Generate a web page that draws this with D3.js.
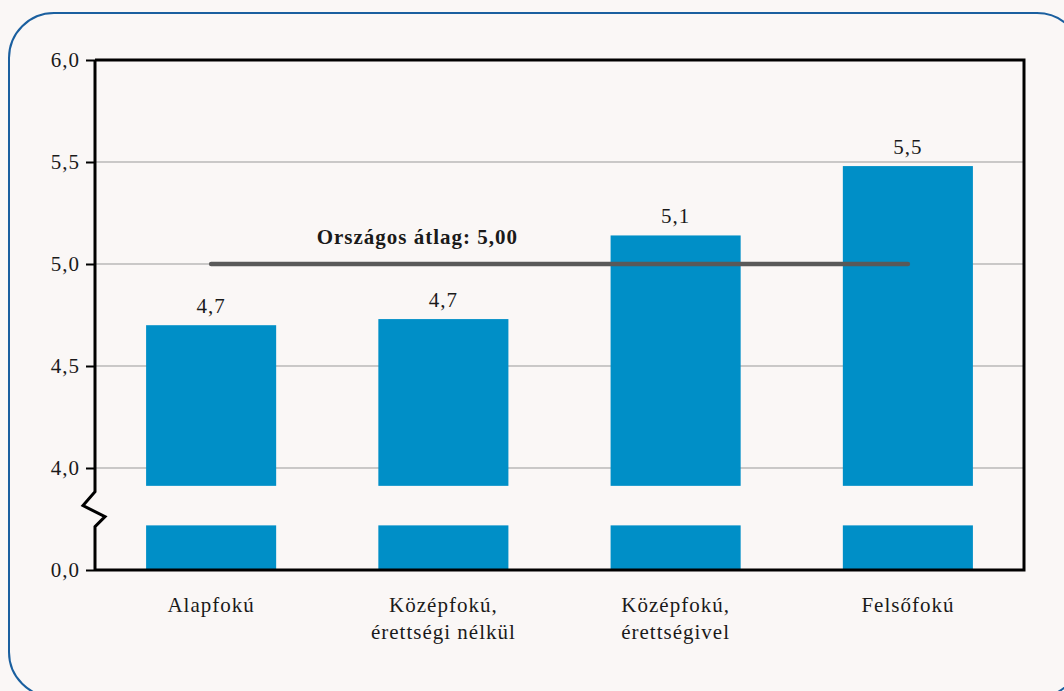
<!DOCTYPE html>
<html>
<head>
<meta charset="utf-8">
<script src="https://cdn.jsdelivr.net/npm/d3@7"></script>
<style>
  html, body { margin: 0; padding: 0; background: #faf7f6; }
  svg { display: block; }
  text { font-family: "Liberation Serif", "Times New Roman", serif; fill: #1a1a1a; letter-spacing: 1px; }
</style>
</head>
<body>
<svg id="chart" width="1064" height="691"></svg>
<script>
// Education level categories (each entry holds the label lines)
const categories = [
  ["Alapfokú"],
  ["Középfokú,", "érettségi nélkül"],
  ["Középfokú,", "érettségivel"],
  ["Felsőfokú"]
];
const values = [4.70, 4.73, 5.14, 5.48];
const yTicks = [0, 4, 4.5, 5, 5.5, 6];
const gridTicks = [4, 4.5, 5, 5.5];
const nationalAverage = 5.00;
const averageLabel = "Országos átlag: 5,00";
// Axis break: bars are interrupted between these two values
const breakLow = 1.75;
const breakHigh = 3.3;

const comma = v => d3.format(".1f")(v).replace(".", ",");

const svg = d3.select("#chart");
const plot = { left: 95, right: 1024, top: 60, bottom: 570 };
const fontSize = 21;

// Rounded outer frame
svg.append("rect")
  .attr("x", 9).attr("y", 13)
  .attr("width", 1073).attr("height", 684)
  .attr("rx", 45).attr("ry", 45)
  .attr("fill", "#faf7f6")
  .attr("stroke", "#1a5f9f")
  .attr("stroke-width", 2);

const keys = categories.map((c, i) => i);
const x = d3.scaleBand()
  .domain(keys)
  .range([plot.left, plot.right])
  .paddingInner(0.44)
  .paddingOuter(0.22);

// Piecewise scale: 0–4 compressed below the break, 4–6 at full resolution
const y = d3.scaleLinear()
  .domain([0, 4, 6])
  .range([plot.bottom, 468, plot.top]);

// Grid lines
svg.append("g").selectAll("line")
  .data(gridTicks)
  .join("line")
  .attr("x1", plot.left).attr("x2", plot.right)
  .attr("y1", d => y(d)).attr("y2", d => y(d))
  .attr("stroke", "#999")
  .attr("stroke-width", 1);

// Bars: upper segment (above the break) and lower segment (below the break)
const bars = svg.append("g");
bars.selectAll("rect.upper")
  .data(values)
  .join("rect")
  .attr("class", "upper")
  .attr("x", (d, i) => x(i))
  .attr("width", x.bandwidth())
  .attr("y", d => y(d))
  .attr("height", d => y(breakHigh) - y(d))
  .attr("fill", "#008fc7");
bars.selectAll("rect.lower")
  .data(values)
  .join("rect")
  .attr("class", "lower")
  .attr("x", (d, i) => x(i))
  .attr("width", x.bandwidth())
  .attr("y", y(breakLow))
  .attr("height", y(0) - y(breakLow))
  .attr("fill", "#008fc7");

// Value labels
svg.append("g").selectAll("text")
  .data(values)
  .join("text")
  .attr("x", (d, i) => x(i) + x.bandwidth() / 2)
  .attr("y", d => y(d) - 12)
  .attr("text-anchor", "middle")
  .attr("font-size", fontSize)
  .text(d => comma(d));

// National average line
const avgX1 = x(0) + x.bandwidth() / 2;
const avgX2 = x(3) + x.bandwidth() / 2;
svg.append("line")
  .attr("x1", avgX1).attr("x2", avgX2)
  .attr("y1", y(nationalAverage)).attr("y2", y(nationalAverage))
  .attr("stroke", "#595959")
  .attr("stroke-width", 4.5)
  .attr("stroke-linecap", "round");
svg.append("text")
  .attr("x", x(1) + x.bandwidth() / 2 - 26)
  .attr("y", y(nationalAverage) - 20)
  .attr("text-anchor", "middle")
  .attr("font-size", fontSize)
  .attr("font-weight", "bold")
  .text(averageLabel);

// Frame: top, right and bottom edges
svg.append("path")
  .attr("d", `M${plot.left},${plot.top}H${plot.right}V${plot.bottom}H${plot.left}`)
  .attr("fill", "none")
  .attr("stroke", "#000")
  .attr("stroke-width", 3);

// Left axis with ticks and labels
const yAxis = d3.axisLeft(y)
  .tickValues(yTicks)
  .tickFormat(comma)
  .tickSize(9)
  .tickPadding(6);
const gy = svg.append("g")
  .attr("transform", `translate(${plot.left},0)`)
  .call(yAxis);
gy.select(".domain").remove();
gy.selectAll(".tick line").attr("stroke", "#000").attr("stroke-width", 2);
gy.selectAll(".tick text")
  .attr("font-family", "Liberation Serif, serif")
  .attr("font-size", fontSize)
  .attr("fill", "#1a1a1a");

// Axis line with zigzag break marker
const mid = (y(breakLow) + y(breakHigh)) / 2;
svg.append("path")
  .attr("d", `M${plot.left},${plot.top}V${mid - 14}L${plot.left - 12},${mid}L${plot.left + 10},${mid + 11}L${plot.left},${mid + 21}V${plot.bottom}`)
  .attr("fill", "none")
  .attr("stroke", "#000")
  .attr("stroke-width", 3)
  .attr("stroke-linejoin", "miter");

// Category labels
const cat = svg.append("g").selectAll("text")
  .data(categories)
  .join("text")
  .attr("x", (d, i) => x(i) + x.bandwidth() / 2)
  .attr("y", 612)
  .attr("text-anchor", "middle")
  .attr("font-size", fontSize);
cat.selectAll("tspan")
  .data(d => d)
  .join("tspan")
  .attr("x", function () { return d3.select(this.parentNode).attr("x"); })
  .attr("dy", (d, i) => i === 0 ? 0 : 27)
  .text(d => d);
</script>
</body>
</html>
